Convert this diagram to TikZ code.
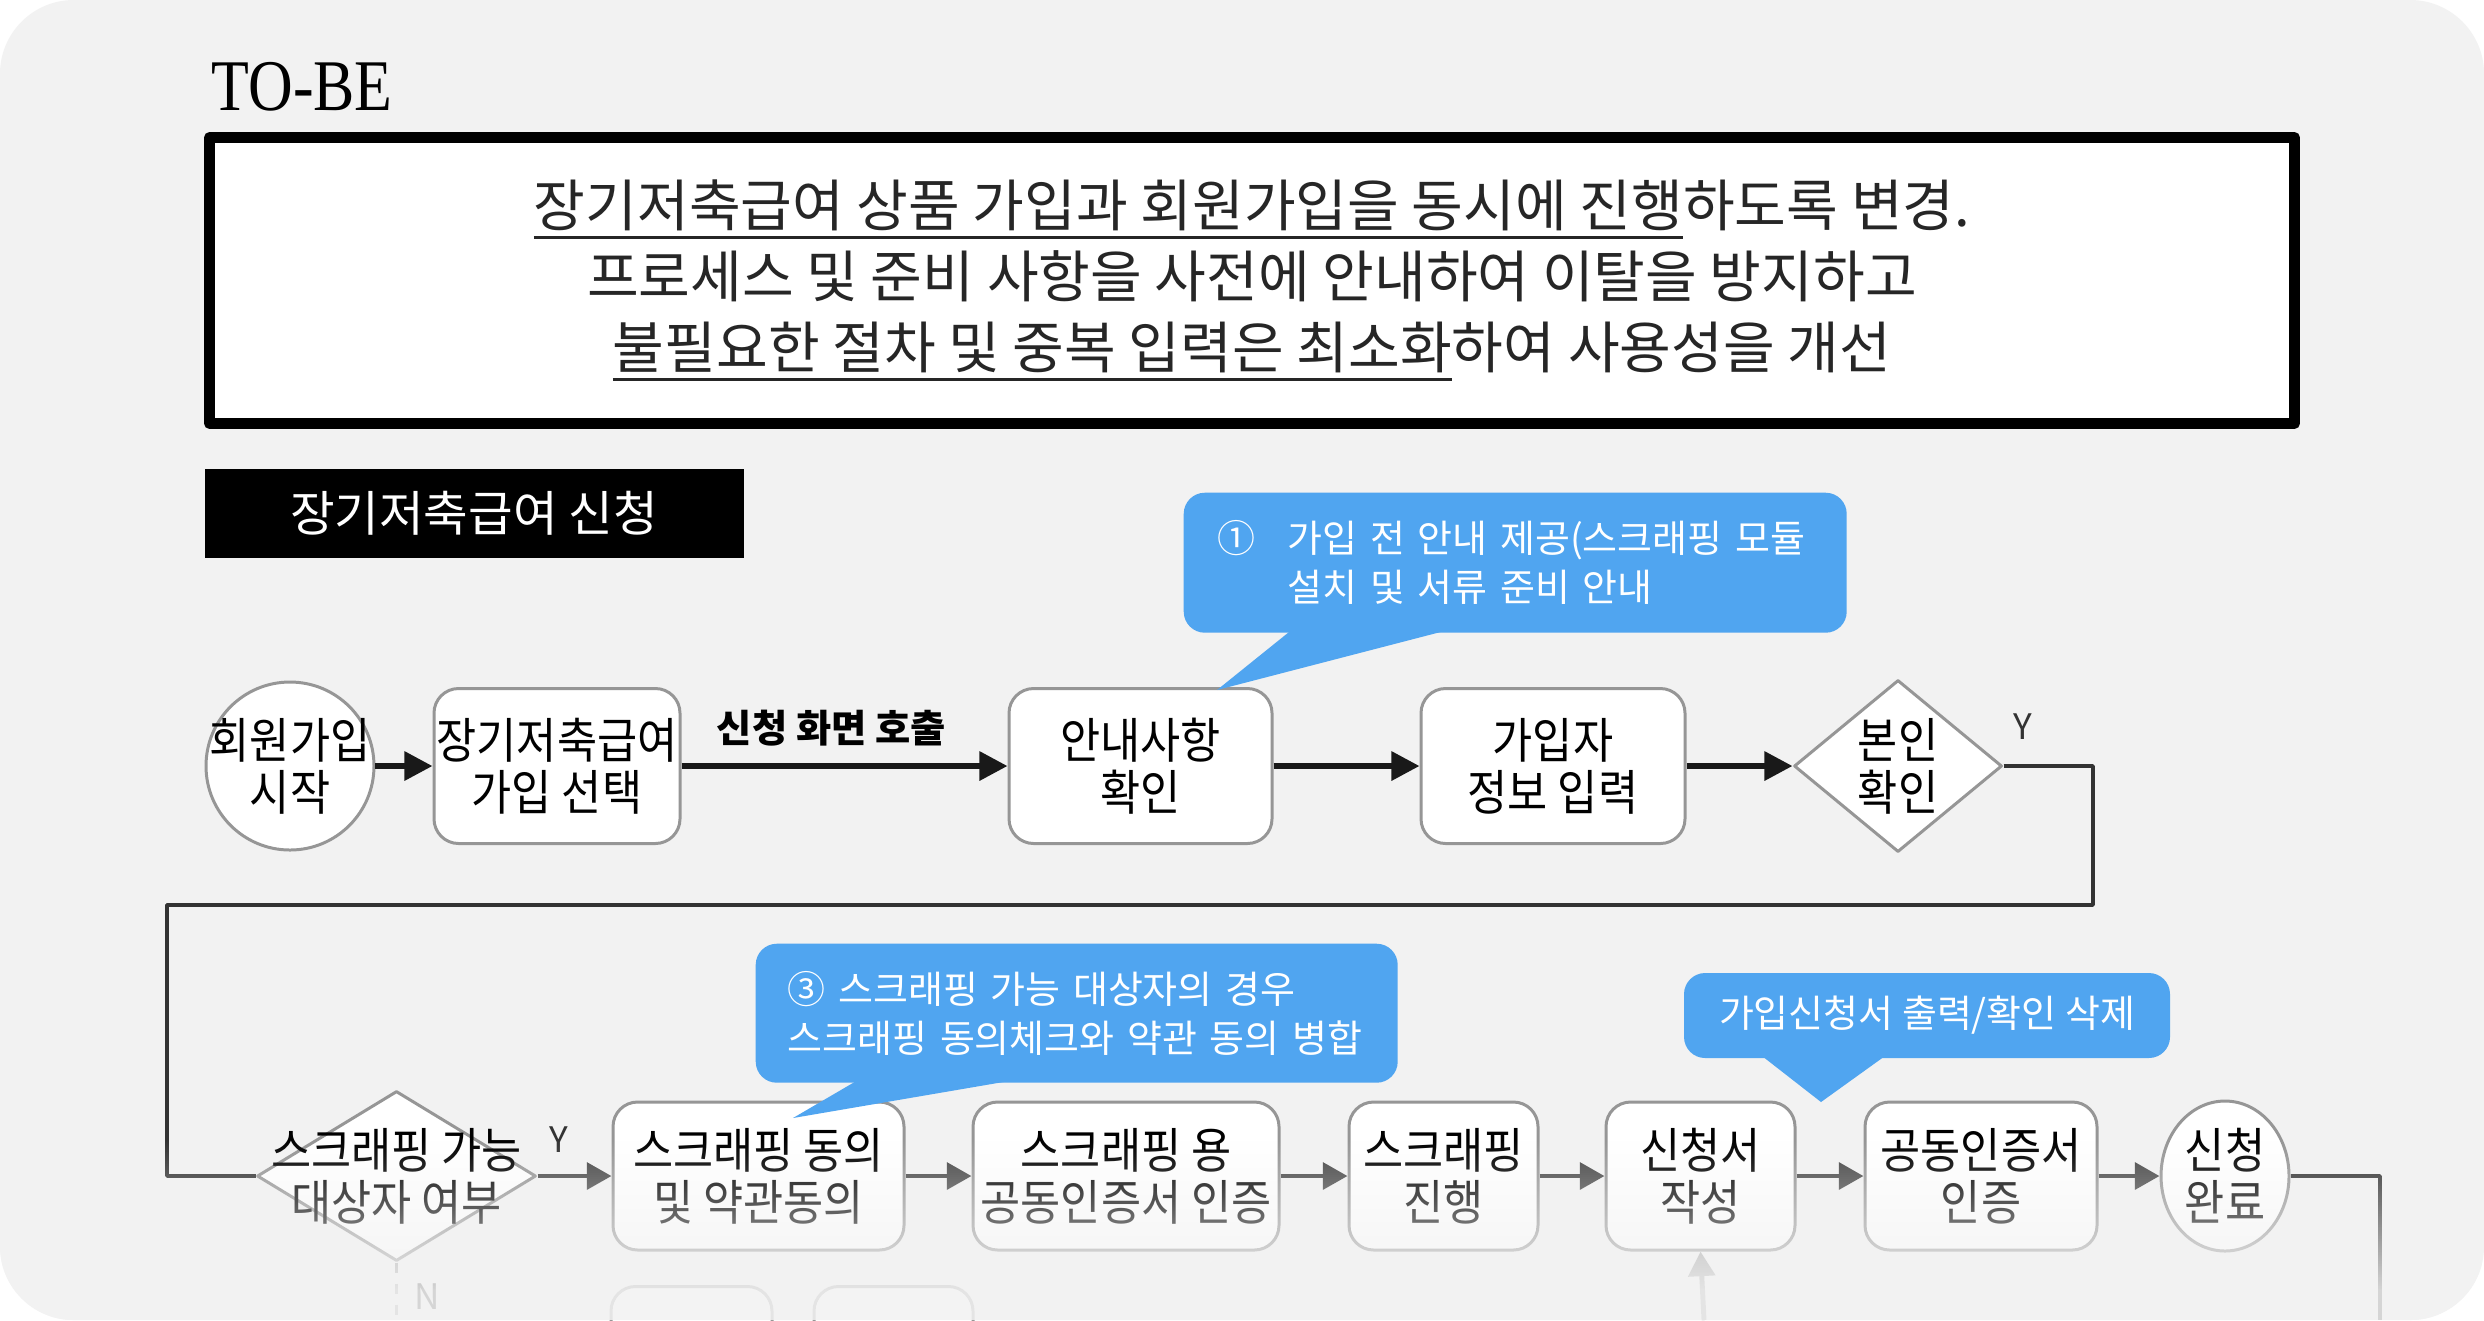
\documentclass[tikz,border=0pt]{standalone}
\usepackage{fontspec}
\setmainfont{Noto Sans CJK KR}
\newfontfamily\narrowfont{Noto Sans CJK KR}[FakeStretch=0.9]
\newfontfamily\tobefont{Liberation Serif}[FakeStretch=0.85]
\usetikzlibrary{shapes.geometric,arrows.meta,fadings}
\definecolor{cardbg}{HTML}{F2F2F2}
\definecolor{callblue}{RGB}{80,165,240}
\definecolor{boxline}{HTML}{969696}
\tikzfading[name=rowfade,top color=transparent!100,bottom color=transparent!15]
\newcommand\undl[1]{\setbox0\hbox{#1}\rlap{\rule[-0.22em]{\wd0}{1pt}}\box0}

\begin{document}
\begin{tikzpicture}[x=0.1mm,y=-0.1mm,line join=round,
  stepbox/.style={draw=boxline,line width=0.85pt,fill=white,rounded corners=7pt,inner sep=0pt,align=center,minimum height=15.5mm,font=\narrowfont\fontsize{13.8}{14.8}\selectfont},
  endbox/.style={draw=boxline,line width=0.85pt,fill=white,inner sep=0pt},
  asktext/.style={align=center,inner sep=0pt,font=\narrowfont\fontsize{13.8}{14.8}\selectfont},
  notebox/.style={fill=callblue,rounded corners=6pt,text=white,align=left,font=\fontsize{10.8}{13.9}\selectfont},
  flowarrow/.style={-{Triangle[length=8pt,width=8pt]},line width=1.7pt,draw=black!90},
  rowarrow/.style={-{Triangle[length=7pt,width=7.5pt]},line width=1.4pt,draw=black!72},
  linkline/.style={line width=1pt,draw=black!80},
  yn/.style={font=\fontsize{10}{11}\selectfont,text=black!80,inner sep=0pt}]
\useasboundingbox (0,0) rectangle (2484,1320);
\fill[white] (0,0) rectangle (2484,1320);
\fill[cardbg,rounded corners=21pt] (0,0) rectangle (2484,1320);

\node[anchor=base west,inner sep=0pt,font=\tobefont\fontsize{20.7}{22}\selectfont] (tobe) at (211,110) {TO-BE};
\node[draw,line width=3.1pt,fill=white,minimum width=208.5mm,minimum height=28.6mm,align=center,text=black!85,font=\fontsize{16}{20.2}\selectfont] (goal) at (1252,280.5)
  {\undl{장기저축급여 상품 가입과 회원가입을 동시에 진행}하도록 변경.\\프로세스 및 준비 사항을 사전에 안내하여 이탈을 방지하고\\\undl{불필요한 절차 및 중복 입력은 최소화}하여 사용성을 개선};
\node[fill=black,text=white,minimum width=53.9mm,minimum height=8.9mm,font=\fontsize{13.8}{15}\selectfont] (title) at (474,513.5) {장기저축급여 신청};

\node[endbox,circle,minimum size=16.8mm] (start) at (290,766) {};
\node[asktext] (starttext) at (start) {회원가입\\시작};
\foreach \n/\x/\w/\t in {apply/557/24.6/{장기저축급여\\가입 선택},info/1140.5/26.3/{안내사항\\확인},member/1553/26.4/{가입자\\정보 입력}}
  \node[stepbox,minimum width=\w mm] (\n) at (\x,766) {\t};
\node[endbox,diamond,minimum width=20.8mm,minimum height=17.2mm] (verify) at (1898,766) {};
\node[asktext] (verifytext) at (verify) {본인\\확인};
\foreach \a/\b in {start/apply,info/member,member/verify}\draw[flowarrow] (\a)--(\b);
\draw[flowarrow] (apply)--node[pos=0.46,above=1.7mm,inner sep=0pt,font=\bfseries\fontsize{10.9}{12}\selectfont] (calllabel) {신청 화면 호출}(info);
\node[yn] (yesA) at (2023,727) {Y};

\node[endbox,diamond,minimum width=27.9mm,minimum height=17mm] (scrap) at (396.5,1176) {};
\node[asktext] (scraptext) at (scrap) {스크래핑 가능\\대상자 여부};
\foreach \n/\x/\w/\t in {consent/758.5/29.1/{스크래핑 동의\\및 약관동의},cert/1126/30.6/{스크래핑 용\\공동인증서 인증},scrape/1443.5/18.9/{스크래핑\\진행},form/1700.5/18.9/{신청서\\작성},sign/1981/23.2/{공동인증서\\인증}}
  \node[stepbox,minimum width=\w mm,minimum height=14.8mm] (\n) at (\x,1176) {\t};
\node[endbox,ellipse,minimum width=12.8mm,minimum height=15mm] (done) at (2225,1176) {};
\node[asktext] (donetext) at (done) {신청\\완료};
\foreach \a/\b in {scrap/consent,consent/cert,cert/scrape,scrape/form,form/sign,sign/done}\draw[rowarrow] (\a)--(\b);
\node[yn] (yesB) at (559,1140) {Y};
\node[yn] (noB) at (427,1297) {N};

\coordinate (turnA) at (2093,905);
\coordinate (turnB) at (167,905);
\draw[linkline] (verify.east) -| (turnA) -- (turnB) |- (scrap.west);

\node[stepbox,minimum width=16.1mm,minimum height=10mm,anchor=north] (moreA) at (691.5,1285) {};
\node[stepbox,minimum width=15.9mm,minimum height=10mm,anchor=north] (moreB) at (893.5,1285) {};
\coordinate (nend) at (396.5,1320);
\coordinate (formin) at (1704,1320);
\coordinate (doneout) at (2380,1320);
\draw[linkline,dashed,draw=black!40] (scrap.south)--(nend);
\draw[rowarrow,draw=black!40] (formin)--(form.south);
\draw[linkline] (done.east) -| (doneout);

\node[notebox,anchor=north west,text width=59.5mm,inner xsep=3.4mm,minimum height=14mm] (noteA) at (1183,492)
  {①\hspace{3.2mm}가입 전 안내 제공(스크래핑 모듈\\\hspace*{7mm}설치 및 서류 준비 안내};
\fill[callblue] (1294,628) -- (1217,690) -- (1456,628) -- cycle;
\node[notebox,anchor=north west,text width=57.8mm,inner xsep=3.2mm,minimum height=13.9mm] (noteC) at (755,943)
  {③ 스크래핑 가능 대상자의 경우\\스크래핑 동의체크와 약관 동의 병합};
\fill[callblue] (858,1080) -- (793,1118) -- (1015,1080) -- cycle;
\node[notebox,align=center,minimum width=48.6mm,minimum height=8.5mm] (noteD) at (1927,1015.5) {가입신청서 출력/확인 삭제};
\fill[callblue] (1762,1056) -- (1821,1102) -- (1885,1056) -- cycle;

\begin{scope}
\clip[rounded corners=21pt] (0,0) rectangle (2484,1320);
\fill[cardbg,path fading=rowfade] (0,1140) rectangle (2484,1290);
\fill[cardbg,opacity=0.85] (0,1290) rectangle (2484,1320);
\end{scope}
\end{tikzpicture}
\end{document}
